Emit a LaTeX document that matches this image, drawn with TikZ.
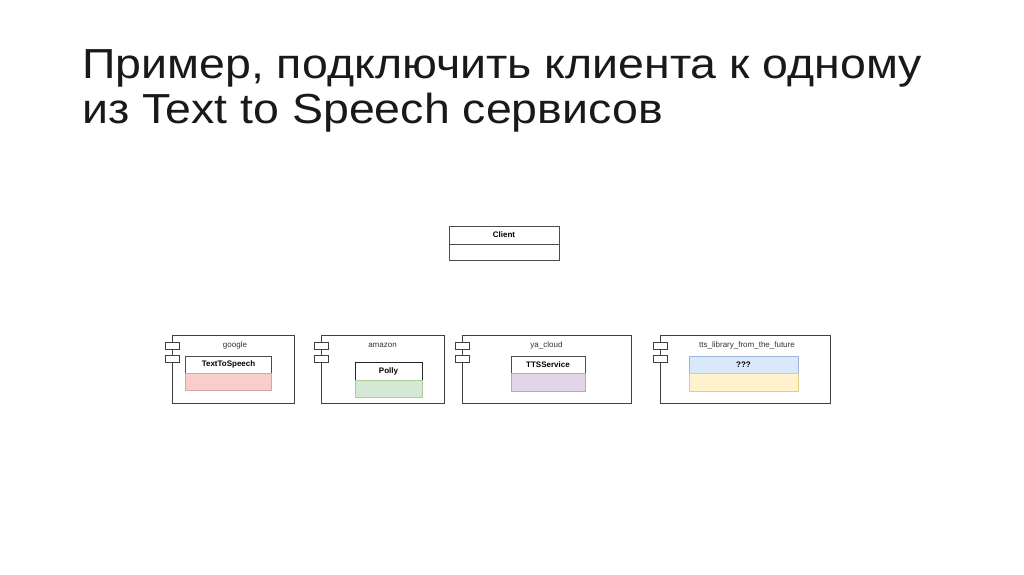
\documentclass[tikz,border=0pt]{standalone}
\usepackage{fontspec}
\setmainfont{Liberation Sans}
\newfontfamily\titlefont[FakeStretch=1.107]{Liberation Sans}
\usepackage{tikz}
\usetikzlibrary{positioning}

\definecolor{redfill}{HTML}{F8CECC}
\definecolor{redline}{HTML}{D9A3A1}
\definecolor{greenfill}{HTML}{D5E8D4}
\definecolor{greenline}{HTML}{A9CC9C}
\definecolor{purplefill}{HTML}{E1D5E7}
\definecolor{purpleline}{HTML}{B9A3C6}
\definecolor{bluefill}{HTML}{DAE8FC}
\definecolor{blueline}{HTML}{9DB5D8}
\definecolor{yellowfill}{HTML}{FFF2CC}
\definecolor{yellowline}{HTML}{E3CB8A}

\begin{document}
\begin{tikzpicture}[x=1pt,y=-1pt,
        title/.style={anchor=base west,inner sep=0,font=\titlefont\fontsize{42}{46}\selectfont,text=black!90},
        comp/.style={draw=black!75,fill=white,line width=0.8pt,minimum height=68,inner sep=0,outer sep=0},
        port/.style={draw=black!75,fill=white,line width=0.7pt,minimum width=14,minimum height=7,inner sep=0},
        head/.style={draw=black!70,fill=white,line width=0.7pt,minimum height=17,inner sep=0,outer sep=0,
                     font=\fontsize{8}{9}\selectfont\bfseries},
        body/.style={line width=0.7pt,minimum height=18,inner sep=0,outer sep=0},
        lbl/.style={anchor=base,inner sep=0,font=\fontsize{8}{9}\selectfont,text=black!80}]

      \useasboundingbox (0,0) rectangle (1024,574);

      % title
      \node[title] (title1) at (82,78)  {Пример, подключить клиента к одному};
      \node[title] (title2) at (82,123) {из Text to Speech сервисов};

      % client class
      \node[head, minimum width=110, minimum height=18] (client) at (504,235) {Client};
      \node[body, draw=black!70, fill=white, minimum width=110, minimum height=16, below=0pt of client] (client-body) {};

      % components
      \node[comp, minimum width=122] (google)    at (233,369)   {};
      \node[comp, minimum width=123] (amazon)    at (382.5,369) {};
      \node[comp, minimum width=169] (yacloud)   at (546.5,369) {};
      \node[comp, minimum width=170] (ttsfuture) at (745,369)   {};

      \foreach \c in {google,amazon,yacloud,ttsfuture} {
        \node[port] (\c-p1) at ([yshift=-10.5]\c.north west) {};
        \node[port] (\c-p2) at ([yshift=-23.5]\c.north west) {};
      }

      \node[lbl] (google-lbl)    at ([xshift=2,yshift=-12.5]google.north)  {google};
      \node[lbl] (amazon-lbl)    at ([yshift=-12.5]amazon.north)           {amazon};
      \node[lbl] (yacloud-lbl)   at ([yshift=-12.5]yacloud.north)          {ya\_cloud};
      \node[lbl] (ttsfuture-lbl) at ([xshift=2,yshift=-12.5]ttsfuture.north) {tts\_library\_from\_the\_future};

      % classes inside
      \node[head, minimum width=86] (tts-google) at (228.5,364.5) {TextToSpeech};
      \node[body, draw=redline, fill=redfill, minimum width=86, minimum height=17, below=0pt of tts-google] (tts-google-body) {};

      \node[head, draw=black!85, minimum width=67, minimum height=18] (polly) at (388.5,371) {Polly};
      \node[body, draw=greenline, fill=greenfill, minimum width=67, minimum height=17, below=0pt of polly] (polly-body) {};

      \node[head, minimum width=74] (ttsservice) at (548,364.5) {TTSService};
      \node[body, draw=purpleline, fill=purplefill, minimum width=74, below=0pt of ttsservice] (ttsservice-body) {};

      \node[head, draw=blueline, fill=bluefill, minimum width=109] (unknown) at (743.5,364.5) {???};
      \node[body, draw=yellowline, fill=yellowfill, minimum width=109, below=0pt of unknown] (unknown-body) {};
\end{tikzpicture}
\end{document}
